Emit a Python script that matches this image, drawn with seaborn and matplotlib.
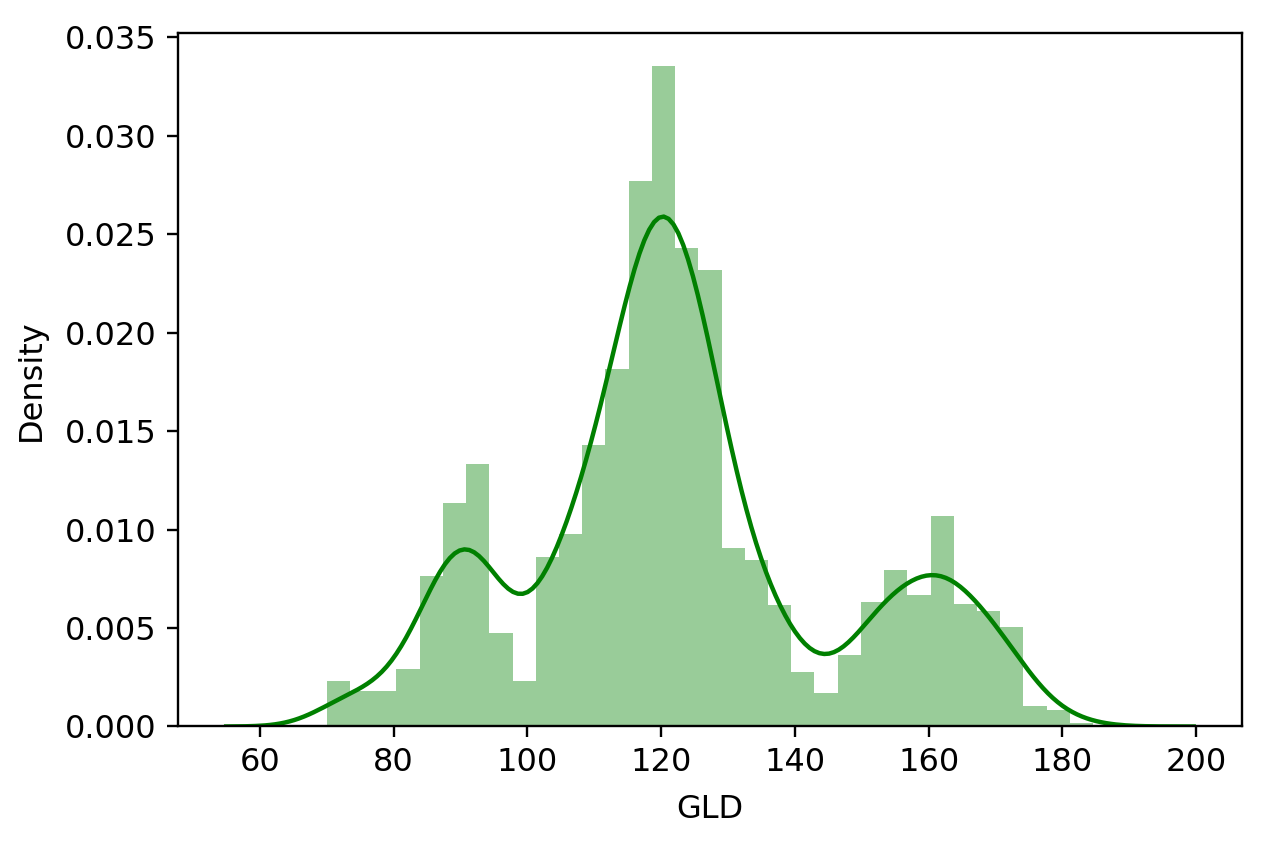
import numpy as np
import pandas as pd
import seaborn as sns
import matplotlib.pyplot as plt

# GLD histogram (density per bin, 33 bins from min to max)
gld_min = 70.0
gld_max = 184.59
n_bins = 33
density = [0.00233, 0.00182, 0.00182, 0.00294, 0.00765, 0.01134, 0.01332,
           0.00473, 0.00233, 0.00863, 0.00977, 0.01428, 0.01817, 0.02770,
           0.03355, 0.02431, 0.02319, 0.00909, 0.00845, 0.00618, 0.00278,
           0.00169, 0.00363, 0.00631, 0.00795, 0.00668, 0.01071, 0.00621,
           0.00587, 0.00504, 0.00103, 0.00086, 0.00020]

edges = np.linspace(gld_min, gld_max, n_bins + 1)
centers = (edges[:-1] + edges[1:]) / 2
data = pd.DataFrame({"GLD": centers, "Density": density})

plt.rcParams["font.family"] = "DejaVu Sans"
plt.rcParams["font.size"] = 23

fig = plt.figure(figsize=(12.61, 8.51), dpi=100)
ax = fig.add_axes([0.141, 0.1463, 0.844, 0.8149])

# bars like distplot (green, alpha 0.4, no edges)
sns.histplot(data=data, x="GLD", weights="Density", bins=n_bins,
             binrange=(gld_min, gld_max), stat="count",
             color="green", alpha=0.4, linewidth=0, ax=ax)
# kde line
sns.kdeplot(data=data, x="GLD", weights="Density", bw_method=0.2,
            cut=2.5, color="green", linewidth=3.2, ax=ax)

ax.set_xlabel("GLD", labelpad=11)
ax.set_ylabel("Density", labelpad=13)
ax.set_yticks(np.arange(0, 0.0351, 0.005))
ax.set_yticklabels([f"{v:.3f}" for v in np.arange(0, 0.0351, 0.005)])
ax.set_xticks([60, 80, 100, 120, 140, 160, 180, 200])
ax.tick_params(length=8, width=1.7, pad=7)
for s in ax.spines.values():
    s.set_linewidth(1.7)

fig.savefig("out.png", dpi=100)
